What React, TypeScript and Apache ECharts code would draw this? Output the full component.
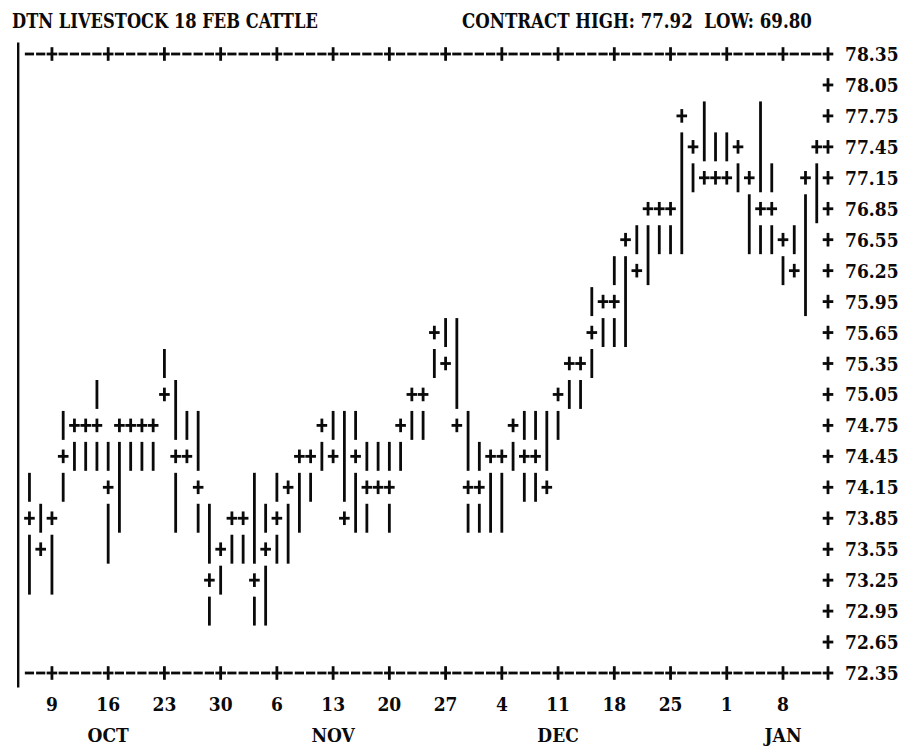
import React, { useEffect, useRef } from 'react';
import * as echarts from 'echarts';

const INK = '#0a0a0a';
const FONT = '"DejaVu Serif Condensed", "DejaVu Serif", serif';

const titleText = 'DTN LIVESTOCK 18 FEB CATTLE';
const contractText = 'CONTRACT HIGH: 77.92  LOW: 69.80';

// one entry per trading day (column 0 = Thu 5 Oct)
const highs = [
  74.15, 73.85, 73.85, 74.75, 74.75, 74.75, 75.05, 74.45, 74.75, 74.75,
  74.75, 74.75, 75.35, 75.05, 74.75, 74.75, 73.85, 73.55, 73.85, 73.85,
  74.15, 73.85, 74.15, 74.15, 74.45, 74.45, 74.75, 74.75, 74.75, 74.75,
  74.45, 74.45, 74.45, 74.75, 75.05, 75.05, 75.65, 75.65, 75.65, 74.75,
  74.45, 74.45, 74.45, 74.75, 74.75, 74.75, 74.75, 75.05, 75.35, 75.35,
  75.95, 75.95, 76.25, 76.55, 76.55, 76.85, 76.85, 76.85, 77.75, 77.45,
  77.75, 77.45, 77.45, 77.45, 77.15, 77.75, 77.15, 76.55, 76.55, 77.15,
  77.45,
];
const lows = [
  73.25, 73.55, 73.25, 74.15, 74.45, 74.45, 74.45, 73.55, 73.85, 74.45,
  74.45, 74.45, 75.05, 73.85, 74.45, 73.85, 72.95, 73.25, 73.55, 73.55,
  72.95, 72.95, 73.55, 73.55, 73.85, 74.15, 74.45, 74.45, 73.85, 73.85,
  73.85, 74.15, 73.85, 74.45, 74.75, 74.75, 75.35, 75.35, 74.75, 73.85,
  73.85, 73.85, 73.85, 74.45, 74.15, 74.15, 74.15, 74.75, 75.05, 75.05,
  75.35, 75.65, 75.65, 75.65, 76.25, 76.25, 76.55, 76.55, 76.55, 77.15,
  77.15, 77.15, 77.15, 77.15, 76.55, 76.55, 76.55, 76.25, 76.25, 75.95,
  76.85,
];
const closes = [
  73.85, 73.55, 73.85, 74.45, 74.75, 74.75, 74.75, 74.15, 74.75, 74.75,
  74.75, 74.75, 75.05, 74.45, 74.45, 74.15, 73.25, 73.55, 73.85, 73.85,
  73.25, 73.55, 73.85, 74.15, 74.45, 74.45, 74.75, 74.45, 73.85, 74.45,
  74.15, 74.15, 74.15, 74.75, 75.05, 75.05, 75.65, 75.35, 74.75, 74.15,
  74.15, 74.45, 74.45, 74.75, 74.45, 74.45, 74.15, 75.05, 75.35, 75.35,
  75.65, 75.95, 75.95, 76.55, 76.25, 76.85, 76.85, 76.85, 77.75, 77.45,
  77.15, 77.15, 77.15, 77.45, 77.15, 76.85, 76.85, 76.55, 76.25, 77.15,
  77.45,
];

const priceTicks = [
  72.35, 72.65, 72.95, 73.25, 73.55, 73.85, 74.15, 74.45, 74.75, 75.05, 75.35,
  75.65, 75.95, 76.25, 76.55, 76.85, 77.15, 77.45, 77.75, 78.05, 78.35,
];
const weekCols = [2, 7, 12, 17, 22, 27, 32, 37, 42, 47, 52, 57, 62, 67];
const dayLabels = ['9', '16', '23', '30', '6', '13', '20', '27', '4', '11', '18', '25', '1', '8'];
const monthLabels = ['', 'OCT', '', '', '', 'NOV', '', '', '', 'DEC', '', '', '', 'JAN'];
const borderCol = -1;
const axisEndCol = 71;

function measure(text: string, font: string): number {
  const cv = document.createElement('canvas');
  const ctx = cv.getContext('2d');
  if (!ctx) return text.length * 11;
  ctx.font = font;
  return ctx.measureText(text).width;
}

export default function App() {
  const ref = useRef<HTMLDivElement>(null);
  useEffect(() => {
    if (!ref.current) return;
    const chart = echarts.init(ref.current, undefined, { renderer: 'svg' });
    const stroke = { stroke: INK, lineWidth: 2.8 };

    const plusEls = (x: number, y: number) => [
      { type: 'line', shape: { x1: x - 5.3, y1: y, x2: x + 5.3, y2: y }, style: stroke },
      { type: 'line', shape: { x1: x, y1: y - 6.8, x2: x, y2: y + 6.8 }, style: stroke },
    ];

    const barRender = (_p: any, api: any) => {
      const c = api.value(0);
      const [x, yH] = api.coord([c, api.value(1)]);
      const yL = api.coord([c, api.value(2)])[1];
      const yC = api.coord([c, api.value(3)])[1];
      const half = api.size([1, 0.3])[1] / 2;
      const children: any[] = [];
      if (yC - yH > 2) children.push({ type: 'line', shape: { x1: x, y1: yH - half + 1, x2: x, y2: yC - half - 1 }, style: stroke });
      if (yL - yC > 2) children.push({ type: 'line', shape: { x1: x, y1: yC + half + 1, x2: x, y2: yL + half - 1 }, style: stroke });
      children.push(...plusEls(x, yC));
      return { type: 'group', children };
    };

    const frameRender = (_p: any, api: any) => {
      const children: any[] = [];
      const ch = api.size([1, 0.3])[1];
      const top = priceTicks[priceTicks.length - 1];
      const bot = priceTicks[0];
      const [bx, by0] = api.coord([borderCol, top]);
      const by1 = api.coord([borderCol, bot])[1];
      children.push({ type: 'line', shape: { x1: bx, y1: by0 - ch / 2 + 4, x2: bx, y2: by1 + ch / 2 - 1 }, style: { stroke: INK, lineWidth: 2.4 } });
      [top, bot].forEach((p) => {
        for (let c = 0; c <= axisEndCol; c++) {
          const [x, y] = api.coord([c, p]);
          if (c === axisEndCol || weekCols.includes(c)) children.push(...plusEls(x, y));
          else children.push({ type: 'line', shape: { x1: x - 4.6, y1: y, x2: x + 4.6, y2: y }, style: stroke });
        }
      });
      priceTicks.forEach((p) => {
        if (p === top || p === bot) return;
        const [x, y] = api.coord([axisEndCol, p]);
        children.push(...plusEls(x, y));
      });
      return { type: 'group', children };
    };

    const titleFont = 'bold 20px "DejaVu Serif Condensed", "DejaVu Serif", serif';
    const tW = measure(titleText, titleFont);
    const cW = measure(contractText, titleFont);

    chart.setOption({
      animation: false,
      backgroundColor: '#ffffff',
      grid: { left: 18.2, right: 93, top: 54, bottom: 82, containLabel: false },
      xAxis: {
        type: 'value',
        min: borderCol,
        max: axisEndCol,
        axisLine: { show: false },
        axisTick: { show: false },
        splitLine: { show: false },
        axisLabel: {
          customValues: weekCols,
          color: INK,
          fontFamily: FONT,
          fontWeight: 'bold',
          fontSize: 19,
          lineHeight: 31,
          margin: 15,
          formatter: (v: number) => {
            const i = weekCols.indexOf(Math.round(v));
            if (i < 0) return '';
            return monthLabels[i] ? dayLabels[i] + '\n' + monthLabels[i] : dayLabels[i];
          },
        },
      },
      yAxis: {
        type: 'value',
        position: 'right',
        min: priceTicks[0],
        max: priceTicks[priceTicks.length - 1],
        axisLine: { show: false },
        axisTick: { show: false },
        splitLine: { show: false },
        axisLabel: {
          customValues: priceTicks,
          color: INK,
          fontFamily: FONT,
          fontWeight: 'bold',
          fontSize: 19,
          margin: 17,
          formatter: (v: number) => v.toFixed(2),
        },
      },
      graphic: [
        { type: 'text', x: 12, y: 21, scaleX: 306 / tW, style: { text: titleText, font: titleFont, fill: INK, verticalAlign: 'middle', align: 'left' } },
        { type: 'text', x: 462, y: 21, scaleX: 350 / cW, style: { text: contractText, font: titleFont, fill: INK, verticalAlign: 'middle', align: 'left' } },
      ],
      series: [
        {
          type: 'custom',
          name: 'frame',
          data: [[0, priceTicks[0]]],
          renderItem: frameRender,
          silent: true,
          clip: false,
        },
        {
          type: 'custom',
          name: 'Feb cattle',
          data: highs.map((h, i) => [i, h, lows[i], closes[i]]),
          encode: { x: 0, y: [1, 2, 3] },
          renderItem: barRender,
          silent: true,
          clip: false,
        },
      ],
    });
    return () => chart.dispose();
  }, []);
  return <div ref={ref} style={{ position: 'fixed', left: 0, top: 0, width: 921, height: 755 }} />;
}
